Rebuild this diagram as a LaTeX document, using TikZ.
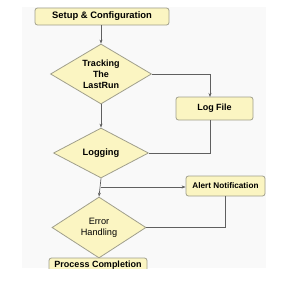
\documentclass[tikz,border=0pt]{standalone}
\usepackage{fontspec}
\setmainfont{Liberation Sans}
\usetikzlibrary{shapes.geometric,arrows.meta}
\definecolor{boxfill}{HTML}{FBF5C2}
\definecolor{boxline}{HTML}{A09F8C}
\definecolor{conn}{HTML}{606060}
\definecolor{bg}{HTML}{F9F9F9}
\tikzset{
  every node/.style={font=\fontsize{9}{11}\selectfont\bfseries, align=center},
  procbox/.style={draw=boxline, fill=boxfill, rounded corners=2.5pt, line width=0.8pt, inner sep=0pt},
  decision/.style={diamond, draw=boxline, fill=boxfill, line width=0.8pt, inner sep=0pt, aspect=1.7},
  link/.style={draw=conn, line width=0.7pt},
  arrowlink/.style={link, -{Stealth[length=4pt,width=3pt]}},
}
\begin{document}
\begin{tikzpicture}[x=1pt,y=-1pt]
\useasboundingbox (0,0) rectangle (296,300);
\fill[bg] (22,7) rectangle (266,268);

\node[procbox, minimum width=134pt, minimum height=17pt, font=\fontsize{9.4}{11}\selectfont\bfseries] (setup) at (102,16.5) {Setup \& Configuration};
\node[decision, minimum width=101pt, minimum height=60pt] (track) at (101,74) {Tracking\\The\\LastRun};
\node[procbox, minimum width=77pt, minimum height=23pt] (log) at (214.5,108.5) {Log File};
\node[decision, minimum width=95pt, minimum height=50pt, font=\fontsize{9.3}{11}\selectfont\bfseries] (logging) at (101,153) {Logging};
\node[procbox, minimum width=79pt, minimum height=20pt, font=\fontsize{8.2}{10}\selectfont\bfseries] (alert) at (225.5,186) {Alert Notification};
\node[decision, minimum width=94pt, minimum height=61pt, font=\fontsize{9.2}{11}\selectfont] (error) at (99,227.5) {Error\\Handling};
\begin{scope}
\clip (0,0) rectangle (296,268);
\node[procbox, minimum width=98pt, minimum height=14pt] (done) at (98,265) {Process Completion};
\end{scope}

\coordinate (logtop) at (210,97);
\coordinate (logbot) at (210,120);
\coordinate (alertbot) at (225,196);
\coordinate (branch) at (101,187);

\draw[arrowlink] (setup.south -| track.north) -- (track.north);
\draw[arrowlink] (track.east) -| (logtop);
\draw[arrowlink] (track.south) -- (logging.north);
\draw[link] (logbot) |- (logging.east);
\draw[arrowlink] (logging.south) -- (error.north);
\draw[arrowlink] (branch) -- (branch -| alert.west);
\draw[link] (alertbot) |- (error.east);
\end{tikzpicture}
\end{document}
